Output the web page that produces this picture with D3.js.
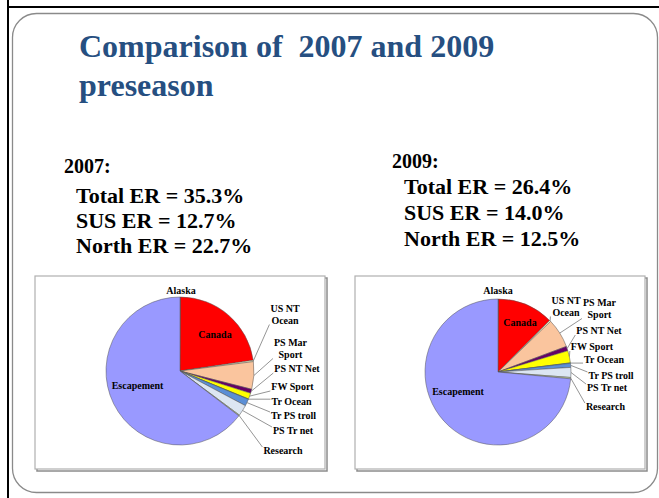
<!DOCTYPE html>
<html>
<head>
<meta charset="utf-8">
<script src="https://cdn.jsdelivr.net/npm/d3@7/dist/d3.min.js"></script>
<style>
  html, body { margin: 0; padding: 0; background: #fff; }
  svg { display: block; }
  text { font-family: "Liberation Serif", "Times New Roman", serif; font-weight: bold; white-space: pre; }
</style>
</head>
<body>
<svg id="chart" width="659" height="498"></svg>
<script>
// ---------- DATA ----------
const categories = ["Alaska", "Canada", "US NT Ocean", "PS Mar Sport", "PS NT Net", "FW Sport",
                    "Tr Ocean", "Tr PS troll", "PS Tr net", "Research", "Escapement"];
const values2007 = [0.1, 22.6, 0.3, 6.0, 0.9, 1.3, 0.1, 1.5, 2.4, 0.2, 64.7];
const values2009 = [0.1, 12.4, 0.3, 6.5, 1.0, 2.7, 0.1, 0.9, 2.2, 0.3, 73.5];
const labelLines = [["Alaska"], ["Canada"], ["US NT", "Ocean"], ["PS Mar", "Sport"], ["PS NT Net"], ["FW Sport"],
                    ["Tr Ocean"], ["Tr PS troll"], ["PS Tr net"], ["Research"], ["Escapement"]];
const titleLines = ["Comparison of  2007 and 2009", "preseason"];
const stats2007 = ["2007:", "Total ER = 35.3%", "SUS ER = 12.7%", "North ER = 22.7%"];
const stats2009 = ["2009:", "Total ER = 26.4%", "SUS ER = 14.0%", "North ER = 12.5%"];

// ---------- STYLE / LAYOUT ----------
const sliceColors = ["#000080", "#FF0000", "#FFFFCC", "#FAC59E", "#660066", "#FFFF00",
                     "#33CCCC", "#5B8FD6", "#DCE6F2", "#C3D69B", "#9999FF"];
const insideLabels = new Set(["Canada", "Escapement"]);
// label centre offsets (dx, first-line baseline dy) relative to pie centre
const layout2007 = [[1, -77], [35, -33], [105, -59], [110.5, -25], [117, 1], [112.5, 19],
                    [111.5, 34], [113.5, 48], [113, 63], [103, 83], [-42.5, 18]];
const layout2009 = [[0, -78], [22, -46], [68, -68], [101.5, -66], [101, -38], [94, -22],
                    [106, -9], [113, 7], [109, 19], [107.5, 38], [-40, 23]];

const svg = d3.select("#chart");

// outer slide edges
svg.append("line").attr("x1", 8).attr("y1", 0).attr("x2", 8).attr("y2", 498)
  .attr("stroke", "#000").attr("stroke-width", 2);
svg.append("line").attr("x1", 8).attr("y1", 7).attr("x2", 659).attr("y2", 7)
  .attr("stroke", "#000").attr("stroke-width", 2);
svg.append("rect").attr("x", 12.5).attr("y", 13.5).attr("width", 645).attr("height", 479)
  .attr("rx", 24).attr("ry", 24).attr("fill", "none").attr("stroke", "#8a8a8a").attr("stroke-width", 1.3);

// title
const title = svg.append("text").attr("fill", "#264F81").style("font-size", "32px")
  .attr("xml:space", "preserve");
titleLines.forEach((t, i) => {
  title.append("tspan").attr("x", 79).attr("y", 57 + i * 39).text(t);
});

// stats blocks
function drawStats(lines, x, y0, dys) {
  const g = svg.append("g");
  lines.forEach((t, i) => {
    g.append("text").attr("x", x + (i === 0 ? 0 : 12)).attr("y", y0 + dys[i])
      .attr("fill", "#000").style("font-size", i === 0 ? "20px" : "22px").text(t);
  });
}
drawStats(stats2007, 64, 173, [0, 30, 55, 80]);
drawStats(stats2009, 392, 168, [0, 26, 52, 78]);

// pie charts
function drawPie(values, box, cx, cy, r, layout) {
  // chart frame with shadow
  svg.append("rect").attr("x", box[0] + 2).attr("y", box[1] + 2).attr("width", box[2]).attr("height", box[3])
    .attr("fill", "none").attr("stroke", "#8c8c8c").attr("stroke-width", 1.5);
  svg.append("rect").attr("x", box[0]).attr("y", box[1]).attr("width", box[2]).attr("height", box[3])
    .attr("fill", "#fff").attr("stroke", "#b0b0b0").attr("stroke-width", 1.2);

  const data = categories.map((c, i) => ({ name: c, value: values[i], i }));
  const pie = d3.pie().value(d => d.value).sort(null);
  const arcs = pie(data);
  const arc = d3.arc().innerRadius(0).outerRadius(r);
  const g = svg.append("g").attr("transform", `translate(${cx},${cy})`);
  g.selectAll("path").data(arcs).join("path")
    .attr("d", arc)
    .attr("fill", d => sliceColors[d.data.i])
    .attr("stroke", "#555").attr("stroke-width", 0.5);

  // labels
  arcs.forEach(a => {
    const name = a.data.name;
    const [lx, ly] = layout[a.data.i];
    const t = g.append("text").attr("text-anchor", "middle").attr("fill", "#000").style("font-size", "10px");
    labelLines[a.data.i].forEach((ln, k) => {
      t.append("tspan").attr("x", lx).attr("y", ly + k * 11.5).text(ln);
    });
    if (insideLabels.has(name) || name === "Alaska") return;
    // leader line: from slice edge to nearest point of label box
    const mid = (a.startAngle + a.endAngle) / 2;
    const ex = Math.sin(mid) * r, ey = -Math.cos(mid) * r;
    const bb = t.node().getBBox();
    const px = Math.max(bb.x - 1, Math.min(ex, bb.x + bb.width + 1));
    const py = Math.max(bb.y + 2, Math.min(ey, bb.y + bb.height - 1));
    if (Math.hypot(px - ex, py - ey) < 4) return;
    g.insert("line", "text")
      .attr("x1", ex).attr("y1", ey).attr("x2", px).attr("y2", py)
      .attr("stroke", "#7a7a7a").attr("stroke-width", 0.8);
  });
}
drawPie(values2007, [35, 276, 290, 193], 180, 371, 74, layout2007);
drawPie(values2009, [355, 276, 290, 193], 498, 372, 73, layout2009);
</script>
</body>
</html>
